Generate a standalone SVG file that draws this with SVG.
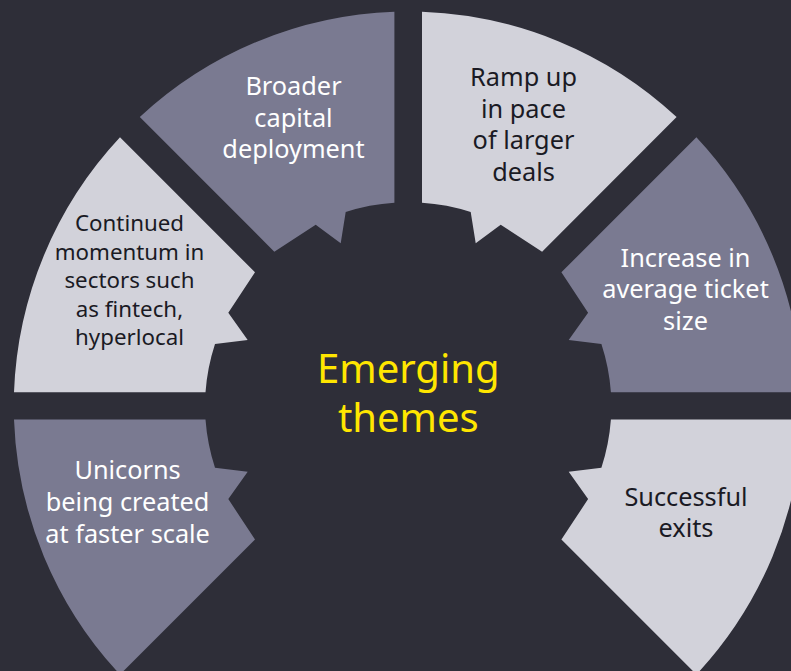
<svg xmlns="http://www.w3.org/2000/svg" width="791" height="671" viewBox="0 0 791 671">
<style>
.light{fill:#d2d2da}
.dark{fill:#7a7a91}
text{font-family:"Noto Sans","Open Sans","Liberation Sans",sans-serif;text-anchor:middle}
.tl{fill:#1a1a24;font-size:25.3px}
.td{fill:#ffffff;font-size:25.3px}
.sm{font-size:22.3px}
.title{fill:#ffe600;font-size:40px}
</style>
<rect width="791" height="671" fill="#2e2e38"/>
<g id="broader">
<path class="dark" d="M394.4 202.8 L394.4 11.7 A394.4 394.4 0 0 0 139.8 117 L274.3 251.7 L315.7 224.7 L340.7 243.3 L345.7 212 A203.6 203.6 0 0 1 394.4 202.8 Z"/>
<text class="td" x="293.5" y="95">Broader</text>
<text class="td" x="293.5" y="126.6">capital</text>
<text class="td" x="293.5" y="158.2">deployment</text>
</g>
<g id="ramp">
<path class="light" d="M422 202.8 L422 11.7 A394.4 394.4 0 0 1 676.6 117 L542.1 251.7 L500.7 224.7 L475.7 243.3 L470.7 212 A203.6 203.6 0 0 0 422 202.8 Z"/>
<text class="tl" x="523.5" y="86">Ramp up</text>
<text class="tl" x="523.5" y="117.7">in pace</text>
<text class="tl" x="523.5" y="149.4">of larger</text>
<text class="tl" x="523.5" y="181">deals</text>
</g>
<g id="increase">
<path class="dark" d="M610.9 392.2 L802.4 392.2 A394.4 394.4 0 0 0 696.4 137.3 L561.4 272.3 L588.1 312.7 L568.7 340 L601.4 344 A203.4 203.4 0 0 1 610.9 392.2 Z"/>
<text class="td" x="685.5" y="266.7">Increase in</text>
<text class="td" x="685.5" y="298.2">average ticket</text>
<text class="td" x="685.5" y="329.7">size</text>
</g>
<g id="successful">
<path class="light" d="M610.9 419.6 L802.4 419.6 A394.4 394.4 0 0 1 696.4 674.5 L561.4 539.5 L588.1 499.1 L568.7 471.8 L601.4 467.8 A203.4 203.4 0 0 0 610.9 419.6 Z"/>
<text class="tl" x="686" y="505.7">Successful</text>
<text class="tl" x="686" y="537.3">exits</text>
</g>
<g id="unicorns">
<path class="dark" d="M205.5 419.6 L14 419.6 A394.4 394.4 0 0 0 120 674.5 L255 539.5 L228.3 499.1 L247.7 471.8 L215 467.8 A203.4 203.4 0 0 1 205.5 419.6 Z"/>
<text class="td" x="127.6" y="479.3">Unicorns</text>
<text class="td" x="127.6" y="511.3">being created</text>
<text class="td" x="127.6" y="543.3">at faster scale</text>
</g>
<g id="continued">
<path class="light" d="M205.5 392.2 L14 392.2 A394.4 394.4 0 0 1 120 137.3 L255 272.3 L228.3 312.7 L247.7 340 L215 344 A203.4 203.4 0 0 0 205.5 392.2 Z"/>
<text class="tl sm" x="129.5" y="231">Continued</text>
<text class="tl sm" x="129.5" y="259.5">momentum in</text>
<text class="tl sm" x="129.5" y="288">sectors such</text>
<text class="tl sm" x="129.5" y="316.5">as fintech,</text>
<text class="tl sm" x="129.5" y="345">hyperlocal</text>
</g>
<g id="center">
<text class="title" x="408.3" y="383">Emerging<tspan x="408.3" dy="49">themes</tspan></text>
</g>
</svg>
